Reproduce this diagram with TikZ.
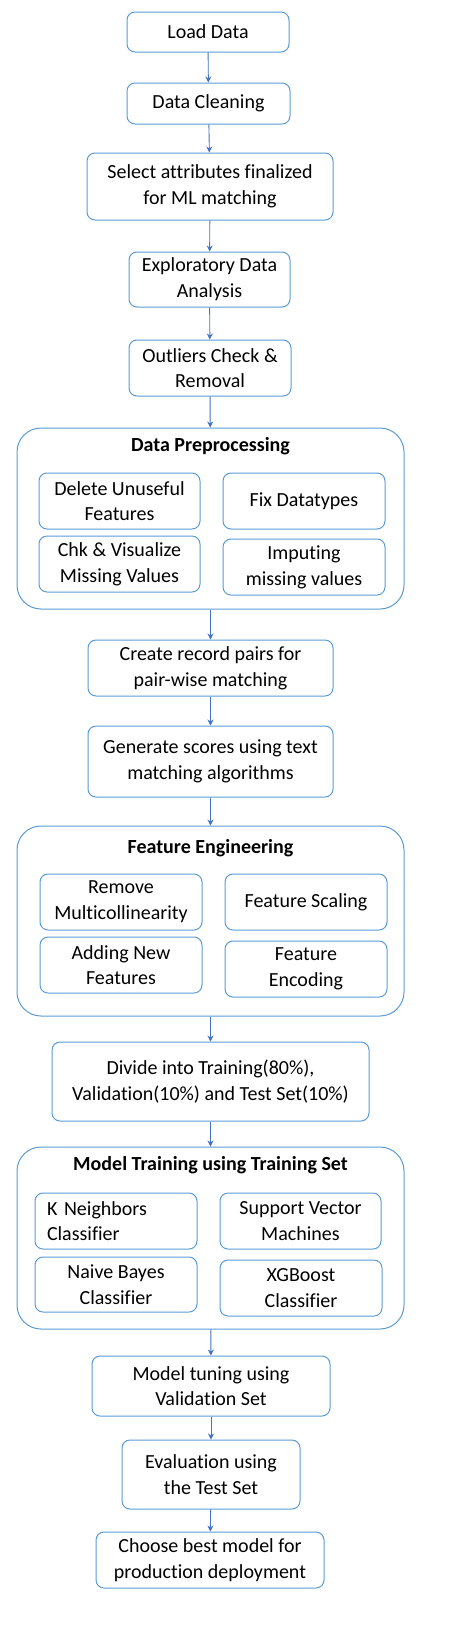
\documentclass[tikz,border=0pt]{standalone}
\usepackage{fontspec}
\setmainfont{Carlito}[Ligatures={NoCommon}]
\usepackage{tikz}
\usetikzlibrary{arrows.meta}
\usepackage{xcolor}
\definecolor{boxblue}{HTML}{5B9BD5}
\definecolor{arrowblue}{HTML}{4472C4}

\begin{document}
\begin{tikzpicture}[x=1pt,y=-1pt]
		\tikzset{
			every node/.style = {font=\fontsize{20}{25.7}\selectfont, inner sep=0pt},
			step box/.style = {draw=boxblue, line width=1pt, rounded corners=8pt, align=center},
			group box/.style = {draw=boxblue, line width=1pt, rounded corners=24pt, minimum width=387pt},
			group title/.style = {font=\fontsize{20}{24}\selectfont\bfseries},
			flow/.style = {draw=arrowblue, line width=0.9pt, -{Stealth[length=6pt,width=6pt]}}
		}
		\useasboundingbox (0,0) rectangle (472,1628);
		% main steps
		\node [step box, minimum width=162pt, minimum height=40pt] (load) at (208,32) {Load Data};
		\node [step box, minimum width=163pt, minimum height=41pt] (clean) at (208.5,103.5) {Data Cleaning};
		\node [step box, minimum width=246pt, minimum height=67pt] (select) at (210,186.5) {Select attributes finalized\\for ML matching};
		\node [step box, minimum width=161pt, minimum height=55pt] (eda) at (209.5,279.5) {Exploratory Data\\Analysis};
		\node [step box, minimum width=162pt, minimum height=56pt] (outl) at (210,368) {Outliers Check \&\\Removal};
		% data preprocessing
		\node [group box, minimum height=181pt] (prep) at (210.5,518.5) {};
		\node [group title] (preptitle) at (210.5,446) {Data Preprocessing};
		\node [step box, minimum width=161pt, minimum height=56pt] (del) at (119.5,501) {Delete Unuseful\\Features};
		\node [step box, minimum width=162pt, minimum height=56pt] (fix) at (304,501) {Fix Datatypes};
		\node [step box, minimum width=161pt, minimum height=56pt] (chk) at (119.5,564) {Chk \& Visualize\\Missing Values};
		\node [step box, minimum width=162pt, minimum height=56pt] (imp) at (304,567) {Imputing\\missing values};
		\node [step box, minimum width=245pt, minimum height=56pt] (pairs) at (210.5,668) {Create record pairs for\\pair-wise matching};
		\node [step box, minimum width=245pt, minimum height=71pt] (scores) at (210.5,761.5) {Generate scores using text\\matching algorithms};
		% feature engineering
		\node [group box, minimum height=190pt] (feat) at (210.5,921) {};
		\node [group title] (feattitle) at (210.5,848) {Feature Engineering};
		\node [step box, minimum width=162pt, minimum height=56pt] (remove) at (121,902) {Remove\\Multicollinearity};
		\node [step box, minimum width=162pt, minimum height=56pt] (scale) at (306,902) {Feature Scaling};
		\node [step box, minimum width=162pt, minimum height=56pt] (adding) at (121,965) {Adding New\\Features};
		\node [step box, minimum width=162pt, minimum height=56pt] (encode) at (306,969) {Feature\\Encoding};
		\node [step box, minimum width=317pt, minimum height=79pt] (divide) at (210.5,1081.5) {Divide into Training(80\%),\\Validation(10\%) and Test Set(10\%)};
		% model training
		\node [group box, minimum height=182pt] (train) at (210.5,1238) {};
		\node [group title] (traintitle) at (210.5,1165) {Model Training using Training Set};
		\node [step box, align=left, text width=138pt, inner xsep=12pt, minimum height=56pt] (knn) at (116,1221) {K Neighbors\\Classifier};
		\node [step box, minimum width=161pt, minimum height=56pt] (svm) at (300.5,1221) {Support Vector\\Machines};
		\node [step box, minimum width=162pt, minimum height=55pt] (nb) at (116,1284.5) {Naive Bayes\\Classifier};
		\node [step box, minimum width=162pt, minimum height=56pt] (xgb) at (301,1288) {XGBoost\\Classifier};
		\node [step box, minimum width=238pt, minimum height=60pt] (tune) at (211,1386) {Model tuning using\\Validation Set};
		\node [step box, minimum width=178pt, minimum height=69pt] (eval) at (211,1474.5) {Evaluation using\\the Test Set};
		\node [step box, minimum width=228pt, minimum height=56pt] (choose) at (210,1560) {Choose best model for\\production deployment};
		% connectors
		\draw [flow] (load) -- (clean);
		\draw [flow] (clean) -- (select);
		\draw [flow] (select) -- (eda);
		\draw [flow] (eda) -- (outl);
		\draw [flow] (outl) -- (prep);
		\draw [flow] (prep) -- (pairs);
		\draw [flow] (pairs) -- (scores);
		\draw [flow] (scores) -- (feat);
		\draw [flow] (feat) -- (divide);
		\draw [flow] (divide) -- (train);
		\draw [flow] (train) -- (tune);
		\draw [flow] (tune) -- (eval);
		\draw [flow] (eval) -- (choose);
\end{tikzpicture}
\end{document}
